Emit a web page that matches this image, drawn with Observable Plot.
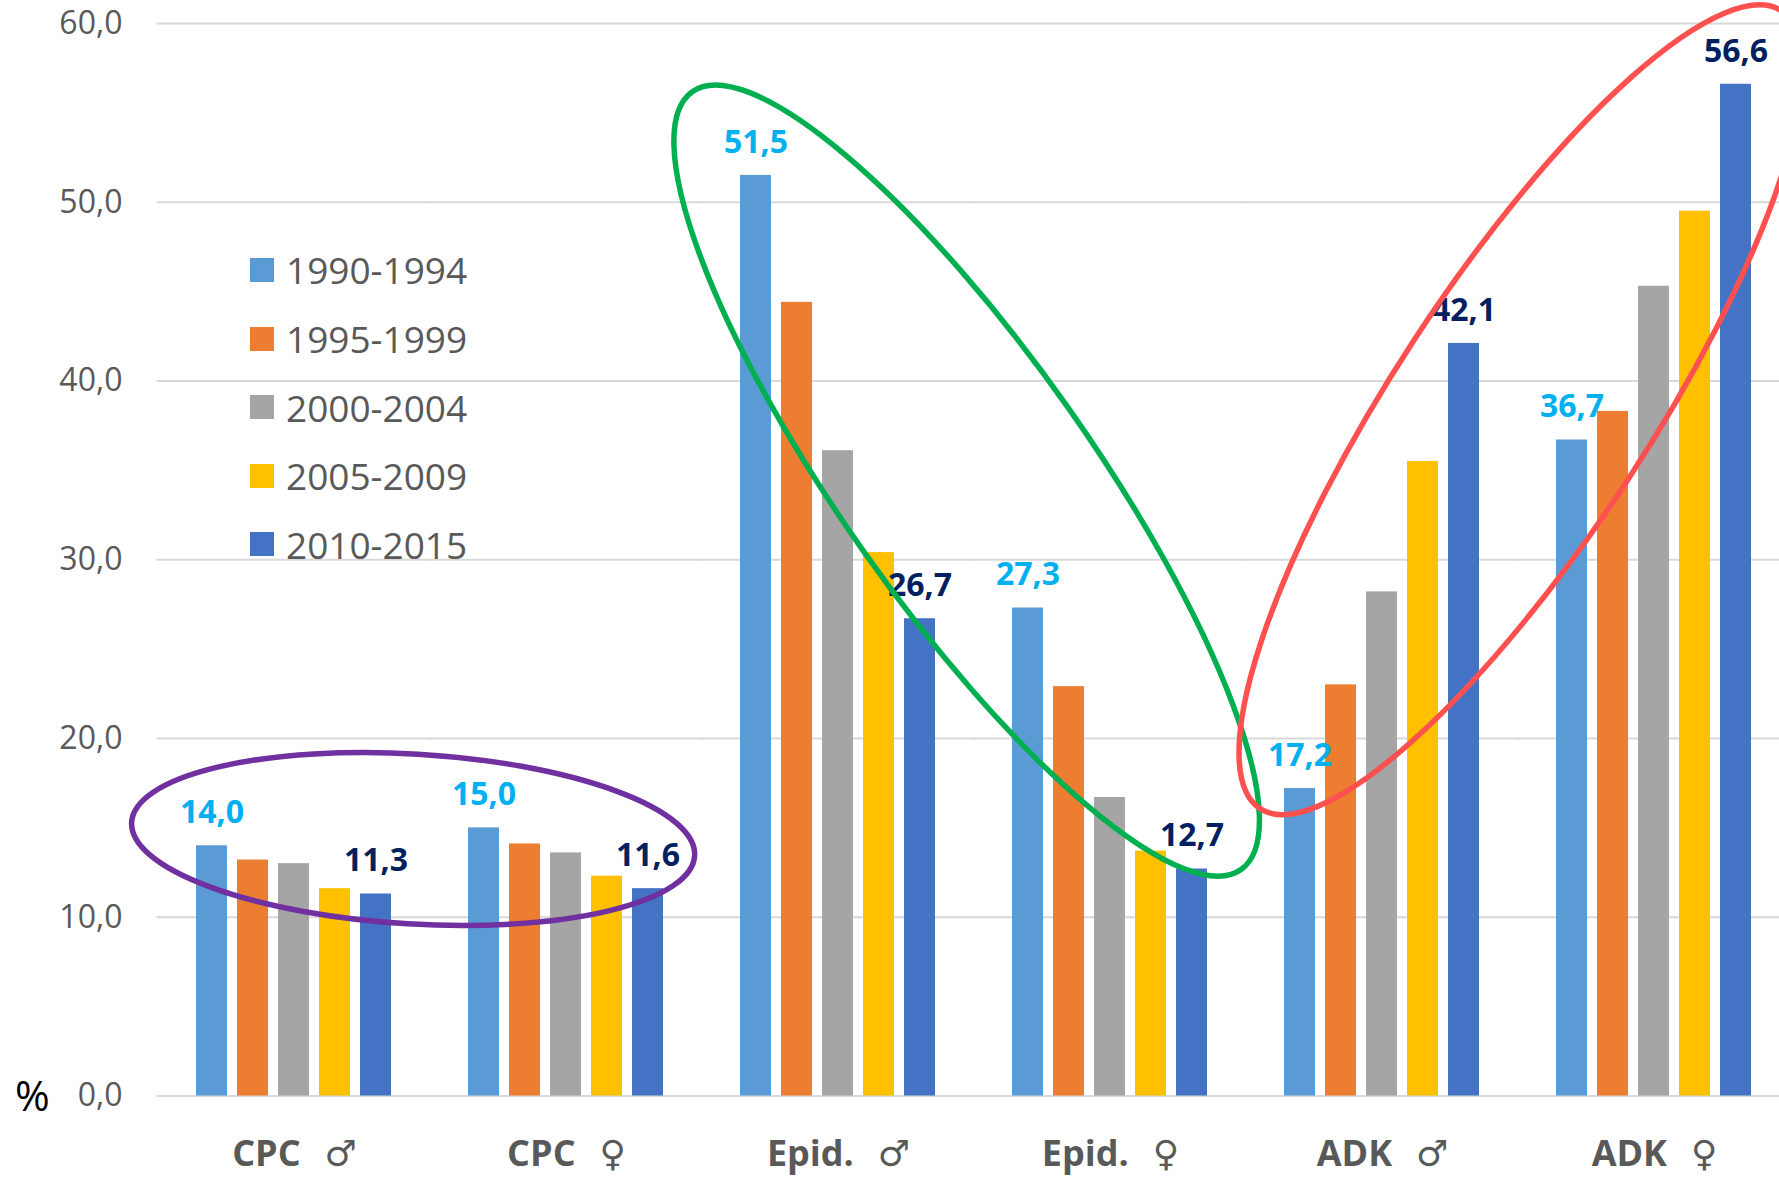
<!DOCTYPE html>
<html><head><meta charset="utf-8">
<script src="https://cdn.jsdelivr.net/npm/d3@7"></script>
<script src="https://cdn.jsdelivr.net/npm/@observablehq/plot@0.6"></script>
<style>
html,body{margin:0;padding:0;overflow:hidden;background:#fff;}
#wrap{position:relative;width:1779px;height:1177px;overflow:hidden;}
#legend{position:absolute;left:250px;top:235.7px;font-family:"Open Sans",sans-serif;font-size:37px;color:#595959;}
.row{display:flex;align-items:center;height:68.6px;white-space:nowrap;}
.sw{width:24px;height:24px;margin-right:12px;flex:none;}
#pct{position:absolute;left:15px;top:1074px;font-family:"Open Sans",sans-serif;font-size:42px;line-height:42px;color:#000;}
</style></head><body><div id="wrap"></div>
<script>
// ---- data ----
const categories = ["CPC ♂", "CPC ♀", "Epid. ♂", "Epid. ♀", "ADK ♂", "ADK ♀"];
const periods = ["1990-1994", "1995-1999", "2000-2004", "2005-2009", "2010-2015"];
const colors = ["#5B9BD5", "#ED7D31", "#A5A5A5", "#FFC000", "#4472C4"];
const v1990_1994 = [14.0, 15.0, 51.5, 27.3, 17.2, 36.7];
const v1995_1999 = [13.2, 14.1, 44.4, 22.9, 23.0, 38.3];
const v2000_2004 = [13.0, 13.6, 36.1, 16.7, 28.2, 45.3];
const v2005_2009 = [11.6, 12.3, 30.4, 13.7, 35.5, 49.5];
const v2010_2015 = [11.3, 11.6, 26.7, 12.7, 42.1, 56.6];
const yTicks = [0, 10, 20, 30, 40, 50, 60];
const yLabel = "%";

// hand-drawn annotation ellipses (position in group units / value units)
const ellipses = [
  {pos: 0.438, value: 14.35, rx: 282, ry: 85, angle: 3.4, color: "#7030A0"},
  {pos: 2.473, value: 34.4, rx: 476, ry: 125, angle: 54.8, color: "#00B050"},
  {pos: 4.511, value: 38.36, rx: 476.6, ry: 127.7, angle: -56.8, color: "#FF5050"}
];

const series = [v1990_1994, v1995_1999, v2000_2004, v2005_2009, v2010_2015];
const data = [];
categories.forEach((c, i) => periods.forEach((p, j) => data.push({category: c, period: p, value: series[j][i]})));
const fmt = d => d.toFixed(1).replace(".", ",");

const plot = Plot.plot({
  width: 1779,
  height: 1177,
  marginLeft: 156,
  marginRight: 0,
  marginTop: 23,
  marginBottom: 81.5,
  style: {fontFamily: "'Open Sans', 'DejaVu Sans', sans-serif", color: "#595959", background: "#fff", overflow: "hidden"},
  fx: {domain: categories, range: [156, 1792], paddingInner: 0.192, paddingOuter: 0.1, label: null},
  x: {domain: periods, padding: 0.24, axis: null},
  y: {domain: [0, 60], label: null},
  color: {domain: periods, range: colors},
  marks: [
    Plot.ruleY(yTicks, {stroke: "#D9D9D9", strokeWidth: 2, insetLeft: -27.5, insetRight: -27.5}),
    Plot.barY(data, {fx: "category", x: "period", y: "value", fill: "period"}),
    Plot.text(data.filter(d => d.period === periods[0]), {fx: "category", x: "period", y: "value", text: d => fmt(d.value), dy: -33, fill: "#00B0F0", fontSize: 32, fontWeight: "bold"}),
    Plot.text(data.filter(d => d.period === periods[periods.length - 1]), {fx: "category", x: "period", y: "value", text: d => fmt(d.value), dy: -33, fill: "#002060", fontSize: 32, fontWeight: "bold"}),
    Plot.axisY({ticks: yTicks, tickSize: 0, tickPadding: 62, fontSize: 32, tickFormat: fmt, label: null}),
    Plot.axisFx({anchor: "bottom", tickSize: 0, tickPadding: 44, fontSize: 36, fontWeight: "bold", tickFormat: d => d.replace(" ", "\u2002\u2009"), label: null})
  ]
});

// annotation ellipses via the plot's scales
const fxs = plot.scale("fx"), ys = plot.scale("y");
const stepFx = fxs.apply(categories[1]) - fxs.apply(categories[0]);
const bw = fxs.bandwidth != null ? fxs.bandwidth : stepFx * 0.808;
const c0 = fxs.apply(categories[0]) + bw / 2;
const sel = d3.select(plot);
for (const e of ellipses) {
  const cx = c0 + e.pos * stepFx, cy = ys.apply(e.value);
  sel.append("ellipse").attr("cx", cx).attr("cy", cy).attr("rx", e.rx).attr("ry", e.ry)
    .attr("transform", `rotate(${e.angle} ${cx} ${cy})`)
    .attr("fill", "none").attr("stroke", e.color).attr("stroke-width", 5.5);
}

const wrap = document.getElementById("wrap");
wrap.appendChild(plot);

// legend
const legend = document.createElement("div");
legend.id = "legend";
periods.forEach((p, i) => {
  const row = document.createElement("div");
  row.className = "row";
  const sw = document.createElement("span");
  sw.className = "sw";
  sw.style.background = colors[i];
  row.appendChild(sw);
  row.appendChild(document.createTextNode(p));
  legend.appendChild(row);
});
wrap.appendChild(legend);

const pct = document.createElement("div");
pct.id = "pct";
pct.textContent = yLabel;
wrap.appendChild(pct);
</script></body></html>
